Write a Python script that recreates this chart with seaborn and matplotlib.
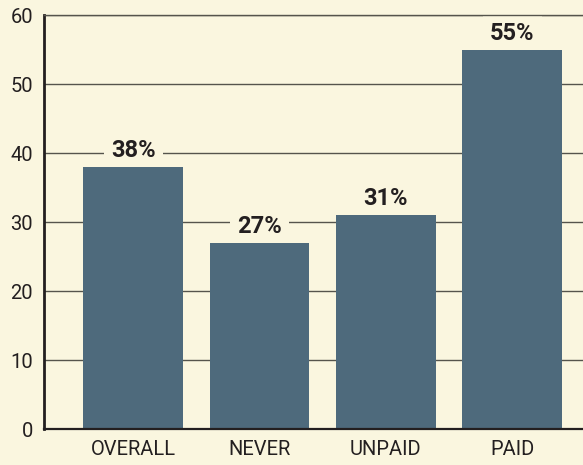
import matplotlib
matplotlib.use("Agg")
import matplotlib.pyplot as plt
import seaborn as sns
import pandas as pd

# data
groups = ["OVERALL", "NEVER", "UNPAID", "PAID"]
values = [38, 27, 31, 55]
labels = ["38%", "27%", "31%", "55%"]

bg = "#FAF6DF"
bar_color = "#4E6A7C"
ink = "#231F20"
grid_color = "#55544c"

sns.set_style("white")
plt.rcParams["font.family"] = ["Roboto", "DejaVu Sans"]

df = pd.DataFrame({"group": groups, "value": values})

fig = plt.figure(figsize=(5.83, 4.65), dpi=100)
fig.patch.set_facecolor(bg)
ax = fig.add_axes([0.0755, 0.0774, 0.9245, 0.8903])
ax.set_facecolor(bg)

sns.barplot(data=df, x="group", y="value", color=bar_color, width=0.79,
            saturation=1, ax=ax, zorder=3, edgecolor="none", linewidth=0)

ax.set_ylim(0, 60)
ax.set_xlim(-0.705, 3.56)
ax.set_yticks(range(0, 61, 10))
ax.yaxis.grid(True, color=grid_color, linewidth=1.0, zorder=0)
ax.set_axisbelow(True)

ax.spines["right"].set_visible(False)
ax.spines["top"].set_color(grid_color)
ax.spines["top"].set_linewidth(1.0)
ax.spines["top"].set_zorder(5)
for s in ["left", "bottom"]:
    ax.spines[s].set_color(ink)
    ax.spines[s].set_zorder(5)
ax.spines["left"].set_linewidth(2)
ax.spines["bottom"].set_linewidth(1.6)

ax.tick_params(axis="both", length=0, labelsize=14.5, colors=ink)
ax.tick_params(axis="y", pad=8)
ax.tick_params(axis="x", pad=8)
ax.set_xlabel("")
ax.set_ylabel("")

# labels sit under the bars so their background only hides the grid lines
for i, (v, t) in enumerate(zip(values, labels)):
    ax.text(i, v + 1.4, t, ha="center", va="baseline", fontsize=17,
            fontweight="bold", color=ink, zorder=2,
            bbox=dict(facecolor=bg, edgecolor="none",
                      boxstyle="square,pad=0.3"))

fig.savefig("out.png", dpi=100, facecolor=bg)
